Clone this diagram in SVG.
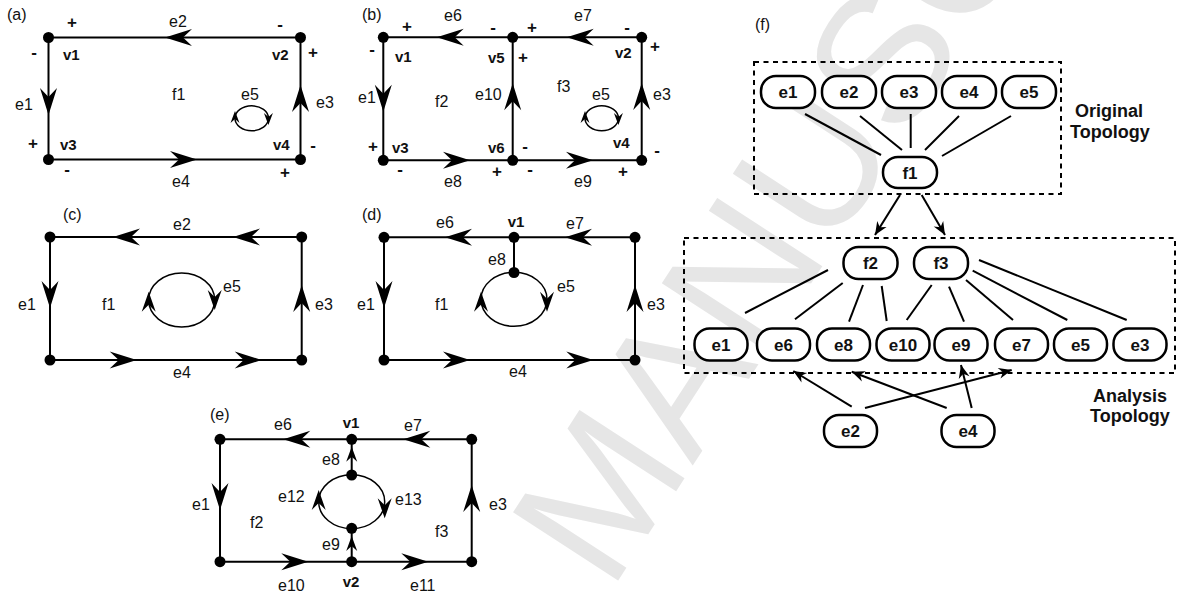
<svg xmlns="http://www.w3.org/2000/svg" width="1180" height="592" viewBox="0 0 1180 592">
<style>
.ln{stroke:#000;stroke-width:2;fill:none}
.el{stroke:#000;stroke-width:1.5;fill:none}
.d{fill:#000}
text{font-family:"Liberation Sans",Arial,sans-serif;fill:#111}
.t{font-size:16px}
.b{font-size:15px;font-weight:bold}
.s{font-size:17px;font-weight:bold;text-anchor:middle}
.m{text-anchor:middle}
.n{fill:#fff;stroke:#000;stroke-width:2.5}
.nt{font-size:17px;font-weight:bold;text-anchor:middle}
.lb{font-size:18px;font-weight:bold}
.db{fill:none;stroke:#000;stroke-width:2;stroke-dasharray:5 4.5}
.fl{stroke:#000;stroke-width:2;fill:none}
.wm{font-size:182px;fill:#e6e6e6;font-family:"Liberation Sans",Arial,sans-serif}
</style>
<defs>
<path id="A" d="M0,0 L-27,-8.5 L-18,0 L-27,8.5Z"/>
<path id="M" d="M0,0 L-20,-7 L-13,0 L-20,7Z"/>
<path id="S" d="M0,0 L-12,-4.5 L-8,0 L-12,4.5Z"/>
<path id="E" d="M0,0 L-15,-5.5 L-10,0 L-15,5.5Z"/>
<marker id="ar" viewBox="-14 -7 15 14" refX="0" refY="0" markerWidth="15" markerHeight="14" markerUnits="userSpaceOnUse" orient="auto">
<path d="M0,0 L-13,-5.5 L-9,0 L-13,5.5Z" fill="#000"/>
</marker>
</defs>
<rect width="1180" height="592" fill="#fff"/>
<text class="wm" transform="translate(610,593) rotate(-57)">MANUSCRIPT</text>

<!-- Panel (a) -->
<g id="panel-a">
<text class="t" x="7" y="20">(a)</text>
<g id="a-edges">
<path class="ln" d="M48.5,37.5 H300.5 V159.5 H48.5 Z"/>
<use href="#A" transform="translate(165,37.5) rotate(180)"/>
<use href="#A" transform="translate(48.5,115) rotate(90)"/>
<use href="#A" transform="translate(300.5,85) rotate(-90)"/>
<use href="#A" transform="translate(197,159.5)"/>
<ellipse class="el" cx="251.7" cy="118.3" rx="16.7" ry="12.5"/>
<use href="#S" transform="translate(235,111) rotate(-90)"/>
<use href="#S" transform="translate(268.4,125) rotate(90)"/>
</g>
<g id="a-v1"><circle class="d" cx="48.5" cy="37.5" r="5.5"/><text class="b" x="63" y="60">v1</text></g>
<g id="a-v2"><circle class="d" cx="300.5" cy="37.5" r="5.5"/><text class="b" x="272" y="60">v2</text></g>
<g id="a-v3"><circle class="d" cx="48.5" cy="159.5" r="5.5"/><text class="b" x="60" y="150">v3</text></g>
<g id="a-v4"><circle class="d" cx="300.5" cy="159.5" r="5.5"/><text class="b" x="273" y="150">v4</text></g>
<g id="a-labels">
<text class="t m" x="178" y="27">e2</text>
<text class="t" x="15" y="110">e1</text>
<text class="t" x="316" y="108">e3</text>
<text class="t m" x="181" y="187">e4</text>
<text class="t" x="172" y="100">f1</text>
<text class="t m" x="250" y="100">e5</text>
<text class="s" x="72" y="28">+</text>
<text class="s" x="34" y="58">-</text>
<text class="s" x="280" y="30">-</text>
<text class="s" x="313" y="58">+</text>
<text class="s" x="33" y="149">+</text>
<text class="s" x="67" y="175">-</text>
<text class="s" x="313" y="151">-</text>
<text class="s" x="285" y="178">+</text>
</g>
</g>

<!-- Panel (b) -->
<g id="panel-b">
<text class="t" x="362" y="20">(b)</text>
<g id="b-edges">
<path class="ln" d="M383.3,37.3 H641.7 V160.3 H383.3 Z M512.7,37.3 V160.3"/>
<use href="#A" transform="translate(436.7,37.3) rotate(180)"/>
<use href="#A" transform="translate(566.7,37.3) rotate(180)"/>
<use href="#A" transform="translate(383.3,111.7) rotate(90)"/>
<use href="#A" transform="translate(512.7,83.3) rotate(-90)"/>
<use href="#A" transform="translate(641.7,83) rotate(-90)"/>
<use href="#A" transform="translate(470,160.3)"/>
<use href="#A" transform="translate(593,160.3)"/>
<ellipse class="el" cx="601.7" cy="118.3" rx="16.7" ry="12.5"/>
<use href="#S" transform="translate(585,111) rotate(-90)"/>
<use href="#S" transform="translate(618.4,125) rotate(90)"/>
</g>
<g id="b-v1"><circle class="d" cx="383.3" cy="37.3" r="5.5"/><text class="b" x="395" y="62">v1</text></g>
<g id="b-v5"><circle class="d" cx="512.7" cy="37.3" r="5.5"/><text class="b" x="488" y="63">v5</text></g>
<g id="b-v2"><circle class="d" cx="641.7" cy="37.3" r="5.5"/><text class="b" x="615" y="58">v2</text></g>
<g id="b-v3"><circle class="d" cx="383.3" cy="160.3" r="5.5"/><text class="b" x="392" y="153">v3</text></g>
<g id="b-v6"><circle class="d" cx="512.7" cy="160.3" r="5.5"/><text class="b" x="488" y="153">v6</text></g>
<g id="b-v4"><circle class="d" cx="641.7" cy="160.3" r="5.5"/><text class="b" x="613" y="148">v4</text></g>
<g id="b-labels">
<text class="t m" x="453" y="21">e6</text>
<text class="t m" x="583" y="21">e7</text>
<text class="t" x="358" y="103">e1</text>
<text class="t" x="475" y="100">e10</text>
<text class="t" x="653" y="100">e3</text>
<text class="t" x="435" y="107">f2</text>
<text class="t" x="557" y="92">f3</text>
<text class="t m" x="601" y="100">e5</text>
<text class="t m" x="453" y="187">e8</text>
<text class="t m" x="583" y="187">e9</text>
<text class="s" x="407" y="32">+</text>
<text class="s" x="493" y="33">-</text>
<text class="s" x="532" y="33">+</text>
<text class="s" x="627" y="33">-</text>
<text class="s" x="655" y="52">+</text>
<text class="s" x="372" y="55">-</text>
<text class="s" x="523" y="63">+</text>
<text class="s" x="373" y="152">+</text>
<text class="s" x="525" y="152">-</text>
<text class="s" x="657" y="156">-</text>
<text class="s" x="400" y="175">-</text>
<text class="s" x="497" y="177">+</text>
<text class="s" x="530" y="175">-</text>
<text class="s" x="623" y="177">+</text>
</g>
</g>

<!-- Panel (c) -->
<g id="panel-c">
<text class="t" x="63" y="220">(c)</text>
<g id="c-edges">
<path class="ln" d="M50,237 H301.7 V360 H50 Z"/>
<use href="#A" transform="translate(113,237) rotate(180)"/>
<use href="#A" transform="translate(233,237) rotate(180)"/>
<use href="#A" transform="translate(50,308) rotate(90)"/>
<use href="#A" transform="translate(301.7,285) rotate(-90)"/>
<use href="#A" transform="translate(136.7,360)"/>
<use href="#A" transform="translate(261.7,360)"/>
<ellipse class="el" cx="181.7" cy="300" rx="33" ry="27"/>
<use href="#M" transform="translate(148.7,291.7) rotate(-90)"/>
<use href="#M" transform="translate(214.7,310) rotate(90)"/>
</g>
<g id="c-v1"><circle class="d" cx="50" cy="237" r="5.5"/></g>
<g id="c-v2"><circle class="d" cx="301.7" cy="237" r="5.5"/></g>
<g id="c-v3"><circle class="d" cx="50" cy="360" r="5.5"/></g>
<g id="c-v4"><circle class="d" cx="301.7" cy="360" r="5.5"/></g>
<g id="c-labels">
<text class="t m" x="182" y="230">e2</text>
<text class="t" x="18" y="310">e1</text>
<text class="t" x="102" y="310">f1</text>
<text class="t" x="223" y="292">e5</text>
<text class="t" x="315" y="310">e3</text>
<text class="t m" x="182" y="378">e4</text>
</g>
</g>

<!-- Panel (d) -->
<g id="panel-d">
<text class="t" x="362" y="220">(d)</text>
<g id="d-edges">
<path class="ln" d="M384,237.3 H635 V360 H384 Z M514,237.3 V272.5"/>
<use href="#A" transform="translate(445,237.3) rotate(180)"/>
<use href="#A" transform="translate(565,237.3) rotate(180)"/>
<use href="#A" transform="translate(384,308) rotate(90)"/>
<use href="#A" transform="translate(635,285) rotate(-90)"/>
<use href="#A" transform="translate(470,360)"/>
<use href="#A" transform="translate(593.3,360)"/>
<ellipse class="el" cx="514" cy="299.3" rx="33" ry="27"/>
<use href="#M" transform="translate(481,291.7) rotate(-90)"/>
<use href="#M" transform="translate(547,311.7) rotate(90)"/>
</g>
<g id="d-v1"><circle class="d" cx="514" cy="237.3" r="5.5"/><text class="b m" x="516" y="227">v1</text></g>
<g id="d-vi"><circle class="d" cx="514" cy="272.5" r="5.5"/></g>
<g id="d-c1"><circle class="d" cx="384" cy="237.3" r="5.5"/></g>
<g id="d-c2"><circle class="d" cx="635" cy="237.3" r="5.5"/></g>
<g id="d-c3"><circle class="d" cx="384" cy="360" r="5.5"/></g>
<g id="d-c4"><circle class="d" cx="635" cy="360" r="5.5"/></g>
<g id="d-labels">
<text class="t m" x="445" y="228">e6</text>
<text class="t m" x="575" y="229">e7</text>
<text class="t" x="488" y="265">e8</text>
<text class="t" x="557" y="292">e5</text>
<text class="t" x="435" y="310">f1</text>
<text class="t" x="357" y="310">e1</text>
<text class="t" x="647" y="310">e3</text>
<text class="t m" x="518" y="377">e4</text>
</g>
</g>

<!-- Panel (e) -->
<g id="panel-e">
<text class="t" x="210" y="420">(e)</text>
<g id="e-edges">
<path class="ln" d="M220,439.3 H471.7 V561.7 H220 Z M351.7,439.3 V475 M351.7,561.7 V528.3"/>
<use href="#A" transform="translate(283.3,439.3) rotate(180)"/>
<use href="#A" transform="translate(403.3,439.3) rotate(180)"/>
<use href="#A" transform="translate(220,510) rotate(90)"/>
<use href="#A" transform="translate(471.7,485) rotate(-90)"/>
<use href="#A" transform="translate(308.3,561.7)"/>
<use href="#A" transform="translate(428.3,561.7)"/>
<ellipse class="el" cx="351.7" cy="501.7" rx="33" ry="27"/>
<use href="#M" transform="translate(318.7,490) rotate(-90)"/>
<use href="#M" transform="translate(384.7,518.3) rotate(90)"/>
<use href="#E" transform="translate(351.7,446.7) rotate(-90)"/>
<use href="#E" transform="translate(351.7,536) rotate(-90)"/>
</g>
<g id="e-v1"><circle class="d" cx="351.7" cy="439.3" r="5.5"/><text class="b m" x="351" y="428">v1</text></g>
<g id="e-v2"><circle class="d" cx="351.7" cy="561.7" r="5.5"/><text class="b m" x="351" y="587">v2</text></g>
<g id="e-vt"><circle class="d" cx="351.7" cy="475" r="5.5"/></g>
<g id="e-vb"><circle class="d" cx="351.7" cy="528.3" r="5.5"/></g>
<g id="e-c1"><circle class="d" cx="220" cy="439.3" r="5.5"/></g>
<g id="e-c2"><circle class="d" cx="471.7" cy="439.3" r="5.5"/></g>
<g id="e-c3"><circle class="d" cx="220" cy="561.7" r="5.5"/></g>
<g id="e-c4"><circle class="d" cx="471.7" cy="561.7" r="5.5"/></g>
<g id="e-labels">
<text class="t m" x="283" y="430">e6</text>
<text class="t m" x="413" y="431">e7</text>
<text class="t" x="322" y="465">e8</text>
<text class="t" x="278" y="502">e12</text>
<text class="t" x="395" y="505">e13</text>
<text class="t" x="192" y="510">e1</text>
<text class="t" x="250" y="528">f2</text>
<text class="t" x="435" y="537">f3</text>
<text class="t" x="489" y="510">e3</text>
<text class="t" x="322" y="550">e9</text>
<text class="t" x="278" y="591">e10</text>
<text class="t" x="410" y="591">e11</text>
</g>
</g>

<!-- Panel (f) -->
<g id="panel-f">
<text class="t" x="755" y="30">(f)</text>
<rect id="box-original" class="db" x="754" y="62" width="307" height="132"/>
<rect id="box-analysis" class="db" x="684" y="238" width="491" height="135"/>
<text class="lb" x="1075" y="117">Original</text>
<text class="lb" x="1070" y="138">Topology</text>
<text class="lb" x="1093" y="402">Analysis</text>
<text class="lb" x="1090" y="422">Topology</text>

<g id="f-connectors">
<line class="fl" x1="805" y1="114" x2="881" y2="155"/>
<line class="fl" x1="860" y1="116" x2="902" y2="150"/>
<line class="fl" x1="910.7" y1="114" x2="910.7" y2="148"/>
<line class="fl" x1="959" y1="116" x2="925" y2="150"/>
<line class="fl" x1="1011" y1="116" x2="942" y2="156"/>
<line class="fl" x1="900" y1="195" x2="875" y2="235" marker-end="url(#ar)"/>
<line class="fl" x1="921.7" y1="195" x2="945" y2="235" marker-end="url(#ar)"/>
<line class="fl" x1="828" y1="270" x2="745" y2="313"/>
<line class="fl" x1="842.7" y1="283" x2="795" y2="319.3"/>
<line class="fl" x1="863" y1="285" x2="849" y2="321.7"/>
<line class="fl" x1="881.7" y1="286" x2="886.7" y2="321"/>
<line class="fl" x1="931.7" y1="285" x2="906.7" y2="320"/>
<line class="fl" x1="949" y1="286.7" x2="964" y2="321.7"/>
<line class="fl" x1="966" y1="280" x2="1013" y2="320"/>
<line class="fl" x1="972.7" y1="270.7" x2="1067.3" y2="320"/>
<line class="fl" x1="979" y1="260" x2="1126.7" y2="320"/>
<line class="fl" x1="851.7" y1="406.7" x2="793.3" y2="371" marker-end="url(#ar)"/>
<line class="fl" x1="865" y1="408" x2="1011.7" y2="370" marker-end="url(#ar)"/>
<line class="fl" x1="946.7" y1="408" x2="851.7" y2="371.7" marker-end="url(#ar)"/>
<line class="fl" x1="971.7" y1="408" x2="961" y2="365" marker-end="url(#ar)"/>
</g>

<g id="n-top-e1"><rect class="n" x="761" y="76" width="54" height="32" rx="15"/><text class="nt" x="788" y="98">e1</text></g>
<g id="n-top-e2"><rect class="n" x="822" y="76" width="54" height="32" rx="15"/><text class="nt" x="849" y="98">e2</text></g>
<g id="n-top-e3"><rect class="n" x="882" y="76" width="54" height="32" rx="15"/><text class="nt" x="909" y="98">e3</text></g>
<g id="n-top-e4"><rect class="n" x="942" y="76" width="54" height="32" rx="15"/><text class="nt" x="969" y="98">e4</text></g>
<g id="n-top-e5"><rect class="n" x="1002" y="76" width="54" height="32" rx="15"/><text class="nt" x="1029" y="98">e5</text></g>
<g id="n-f1"><rect class="n" x="883" y="157" width="54" height="31" rx="15"/><text class="nt" x="910" y="178.5">f1</text></g>
<g id="n-f2"><rect class="n" x="843.5" y="247" width="54" height="32" rx="15"/><text class="nt" x="870.5" y="269">f2</text></g>
<g id="n-f3"><rect class="n" x="914" y="247" width="54" height="32" rx="15"/><text class="nt" x="941" y="269">f3</text></g>
<g id="n-row-e1"><rect class="n" x="694.5" y="328.5" width="53" height="32" rx="15"/><text class="nt" x="721" y="350.5">e1</text></g>
<g id="n-row-e6"><rect class="n" x="757" y="328.5" width="53" height="32" rx="15"/><text class="nt" x="783.5" y="350.5">e6</text></g>
<g id="n-row-e8"><rect class="n" x="817" y="328.5" width="53" height="32" rx="15"/><text class="nt" x="843.5" y="350.5">e8</text></g>
<g id="n-row-e10"><rect class="n" x="876.5" y="328.5" width="53" height="32" rx="15"/><text class="nt" x="903" y="350.5">e10</text></g>
<g id="n-row-e9"><rect class="n" x="934.5" y="328.5" width="53" height="32" rx="15"/><text class="nt" x="961" y="350.5">e9</text></g>
<g id="n-row-e7"><rect class="n" x="995" y="328.5" width="53" height="32" rx="15"/><text class="nt" x="1021.5" y="350.5">e7</text></g>
<g id="n-row-e5"><rect class="n" x="1054" y="328.5" width="53" height="32" rx="15"/><text class="nt" x="1080.5" y="350.5">e5</text></g>
<g id="n-row-e3"><rect class="n" x="1113.5" y="328.5" width="53" height="32" rx="15"/><text class="nt" x="1140" y="350.5">e3</text></g>
<g id="n-bot-e2"><rect class="n" x="824" y="415" width="53" height="32" rx="15"/><text class="nt" x="850.5" y="437">e2</text></g>
<g id="n-bot-e4"><rect class="n" x="941.5" y="415" width="53" height="32" rx="15"/><text class="nt" x="968" y="437">e4</text></g>
</g>
</svg>
